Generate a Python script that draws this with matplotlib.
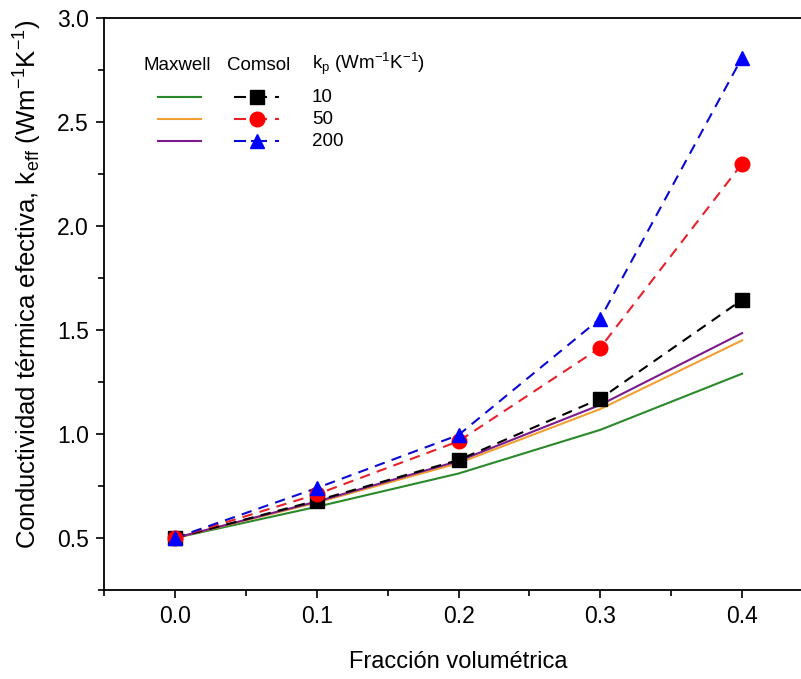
import matplotlib
matplotlib.use("Agg")
import matplotlib.pyplot as plt
from matplotlib.lines import Line2D
from matplotlib.ticker import MultipleLocator, FormatStrFormatter

plt.rcParams['font.family'] = ['Liberation Sans', 'DejaVu Sans']
plt.rcParams['mathtext.fontset'] = 'custom'
plt.rcParams['mathtext.rm'] = 'Liberation Sans'
plt.rcParams['mathtext.it'] = 'Liberation Sans'

# Data
fraction = [0.0, 0.1, 0.2, 0.3, 0.4]
kp_labels = ["10", "50", "200"]
maxwell_10 = [0.50, 0.65, 0.81, 1.02, 1.29]
maxwell_50 = [0.50, 0.67, 0.86, 1.12, 1.45]
maxwell_200 = [0.50, 0.675, 0.87, 1.14, 1.485]
comsol_10 = [0.50, 0.68, 0.875, 1.17, 1.645]
comsol_50 = [0.50, 0.71, 0.965, 1.415, 2.30]
comsol_200 = [0.50, 0.74, 0.995, 1.555, 2.81]

maxwell_colors = ['#2a8a2a', '#f0a030', '#7a1a8c']
comsol_colors = ['#000000', '#e8202a', '#0a0ad0']
marker_colors = ['#000000', '#ff0000', '#0000ff']
markers = ['s', 'o', '^']

fig = plt.figure(figsize=(8.01, 6.79), dpi=100)
ax = fig.add_axes([104/801, 1-590/679, (813-104)/801, (590-18)/679])

dash = (0, (5, 3.5))
for y, c in zip([maxwell_10, maxwell_50, maxwell_200], maxwell_colors):
    ax.plot(fraction, y, color=c, lw=1.5, zorder=2)
for y, c, mc, m in zip([comsol_10, comsol_50, comsol_200], comsol_colors, marker_colors, markers):
    ax.plot(fraction, y, color=c, lw=1.5, linestyle=dash, zorder=3)
    ax.plot(fraction, y, linestyle='none', marker=m, markersize=9.5 if m != 'o' else 10.5,
            color=mc, markeredgecolor=mc, zorder=4)

ax.set_xlim(-0.05, 0.45)
ax.set_ylim(0.25, 3.0)
ax.xaxis.set_major_locator(MultipleLocator(0.1))
ax.xaxis.set_minor_locator(MultipleLocator(0.05))
ax.yaxis.set_minor_locator(MultipleLocator(0.25))
ax.set_yticks([0.5, 1.0, 1.5, 2.0, 2.5, 3.0])
ax.xaxis.set_major_formatter(FormatStrFormatter('%.1f'))
ax.yaxis.set_major_formatter(FormatStrFormatter('%.1f'))
ax.tick_params(which='major', direction='out', length=6, width=1.2, labelsize=16.5, pad=5)
ax.tick_params(which='minor', direction='out', length=4, width=1.2)
for s in ax.spines.values():
    s.set_linewidth(1.3)
ax.spines['right'].set_visible(False)

ax.set_xlabel("Fracción volumétrica", fontsize=17)
ax.xaxis.set_label_coords(0.499, -0.107)
ax.set_ylabel("Conductividad térmica efectiva, k$_{\\rm eff}$ (Wm$^{-1}$K$^{-1}$)", fontsize=18.5)
ax.yaxis.set_label_coords(-0.085, 0.535)

# Legend (manual)
def ax_x(px):
    return (px - 104) / (813 - 104)
def ax_y(py):
    return (590 - py) / (590 - 18)

fs = 13.5
ax.text(ax_x(177), ax_y(65), "Maxwell", fontsize=fs, ha='center', va='center', transform=ax.transAxes)
ax.text(ax_x(259), ax_y(65), "Comsol", fontsize=fs, ha='center', va='center', transform=ax.transAxes)
ax.text(ax_x(312), ax_y(64), "k$_{\\rm p}$ (Wm$^{-1}$K$^{-1}$)", fontsize=fs, ha='left', va='center', transform=ax.transAxes)
rows = [97, 119, 141]
for i in range(3):
    yy = ax_y(rows[i])
    ax.add_line(Line2D([ax_x(158), ax_x(201)], [yy, yy], color=maxwell_colors[i], lw=1.5, transform=ax.transAxes, clip_on=False))
    ax.add_line(Line2D([ax_x(235), ax_x(245)], [yy, yy], color=comsol_colors[i], lw=1.5, transform=ax.transAxes, clip_on=False))
    ax.add_line(Line2D([ax_x(252), ax_x(266)], [yy, yy], color=comsol_colors[i], lw=1.5, transform=ax.transAxes, clip_on=False))
    ax.add_line(Line2D([ax_x(276), ax_x(278)], [yy, yy], color=comsol_colors[i], lw=1.5, transform=ax.transAxes, clip_on=False))
    ax.add_line(Line2D([ax_x(257)], [yy], marker=markers[i], markersize=9.5 if markers[i] != 'o' else 10.5, color=marker_colors[i],
                       linestyle='none', transform=ax.transAxes, clip_on=False))
    ax.text(ax_x(312), yy, kp_labels[i], fontsize=fs, ha='left', va='center', transform=ax.transAxes)

fig.savefig("out.png", dpi=100)
